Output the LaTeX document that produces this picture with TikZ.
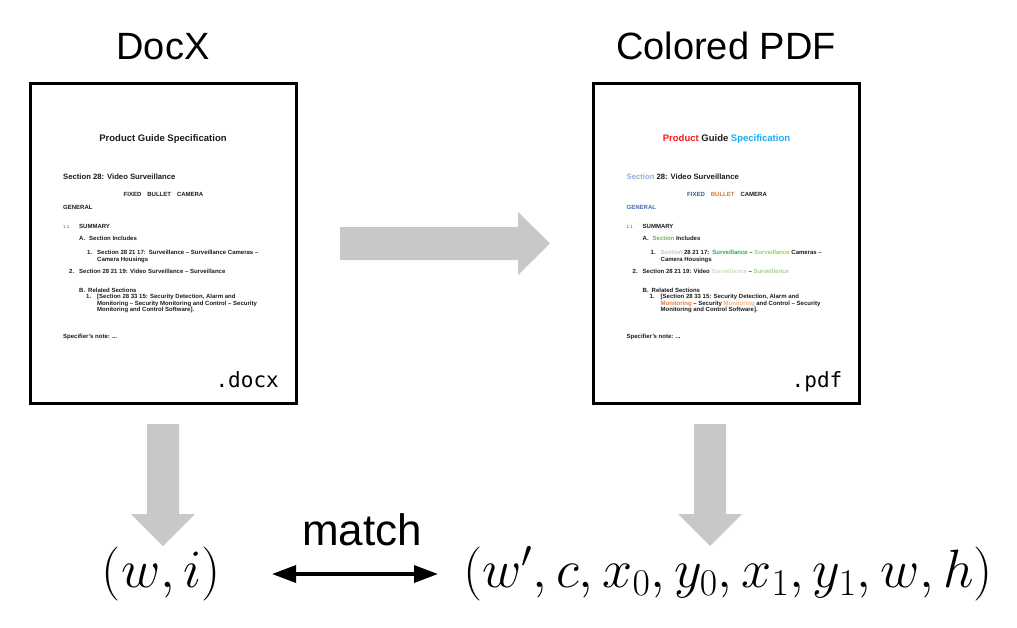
\documentclass[tikz,border=0pt]{standalone}
\usepackage{fix-cm}
\usepackage{fontspec}
\setmainfont{Liberation Sans}
\newfontfamily\monof{DejaVu Sans Mono}
\usetikzlibrary{arrows.meta}
\definecolor{blockgray}{RGB}{200,200,200}
\definecolor{ink}{RGB}{28,28,28}
\colorlet{kProduct}{ink}
\colorlet{kSpec}{ink}
\colorlet{kSecT}{ink}
\colorlet{kFixed}{ink}
\colorlet{kBullet}{ink}
\colorlet{kGeneral}{ink}
\colorlet{kSecA}{ink}
\colorlet{kSecB}{ink}
\colorlet{kSurvA}{ink}
\colorlet{kSurvB}{ink}
\colorlet{kSurvC}{ink}
\colorlet{kSurvD}{ink}
\colorlet{kMonA}{ink}
\colorlet{kMonB}{ink}
\tikzset{
  docbox/.style={draw=black, line width=3pt, fill=white, inner sep=0pt},
  dtitle/.style={anchor=base, inner sep=0pt, text=ink, font=\fontsize{9.5}{11}\selectfont\bfseries},
  dsec/.style={anchor=base west, inner sep=0pt, text=ink, font=\fontsize{7.7}{9}\selectfont\bfseries},
  dtxt/.style={anchor=base west, inner sep=0pt, text=ink, font=\fontsize{6}{7}\selectfont\bfseries},
  dnum/.style={anchor=base west, inner sep=0pt, text=ink!70, font=\fontsize{4.5}{5}\selectfont},
  ext/.style={anchor=base east, inner sep=0pt, font=\fontsize{21}{24}\selectfont\monof},
  heading/.style={anchor=base, inner sep=0pt, font=\fontsize{38}{44}\selectfont},
  mathlbl/.style={anchor=base, inner sep=0pt, font=\fontsize{54}{62}\selectfont},
  blockarrow/.style={fill=blockgray, draw=none},
  matcharrow/.style={line width=3.5pt, {Triangle[length=24pt,width=17pt]}-{Triangle[length=24pt,width=17pt]}}
}
\newcommand\DocBody{%
  \node[dtitle] (title) at (163,141) {\textcolor{kProduct}{Product} Guide \textcolor{kSpec}{Specification}};
  \node[dsec] (sec) at (63,179) {\textcolor{kSecT}{Section} 28: Video Surveillance};
  \node[dtxt, anchor=base] (fbc) at (163.5,196) {\textcolor{kFixed}{FIXED}\hspace{6pt}\textcolor{kBullet}{BULLET}\hspace{6pt}CAMERA};
  \node[dtxt, text=kGeneral] (gen) at (63,209) {GENERAL};
  \node[dnum] (n11) at (63,228) {1.1};
  \node[dtxt] (summ) at (79,228) {SUMMARY};
  \node[dtxt] (secinc) at (79,240.5) {A.\hspace{4pt}\textcolor{kSecA}{Section} Includes};
  \node[dtxt] (one) at (87,254) {1.};
  \node[dtxt] (l1) at (97,254) {\textcolor{kSecB}{Section} 28 21 17:\hspace{3pt}\textcolor{kSurvA}{Surveillance} – \textcolor{kSurvB}{Surveillance} Cameras –};
  \node[dtxt] (l2) at (97,261) {Camera Housings};
  \node[dtxt] (two) at (69,273) {2.};
  \node[dtxt] (l3) at (79,273) {Section 28 21 19: Video \textcolor{kSurvC}{Surveillance} – \textcolor{kSurvD}{Surveillance}};
  \node[dtxt] (bb) at (79,292) {B.};
  \node[dtxt] (rel) at (88,292) {Related Sections};
  \node[dtxt] (oneb) at (86,298.5) {1.};
  \node[dtxt] (l4) at (97,298.5) {[Section 28 33 15: Security Detection, Alarm and};
  \node[dtxt] (l5) at (97,305) {\textcolor{kMonA}{Monitoring} – Security \textcolor{kMonB}{Monitoring} and Control – Security};
  \node[dtxt] (l6) at (97,311.5) {Monitoring and Control Software].};
  \node[dtxt] (note) at (63,338) {Specifier's note: ...};
}
\begin{document}
\begin{tikzpicture}[x=1pt, y=-1pt]
  \useasboundingbox (0,0) rectangle (1017,627);
  % headings
  \node[heading] (hdocx) at (163,59) {DocX};
  \node[heading] (hpdf) at (726,59) {Colored PDF};
  % document boxes
  \node[docbox, minimum width=266pt, minimum height=320pt] (docx) at (163,243) {};
  \node[docbox, minimum width=266pt, minimum height=320pt] (pdf) at (726.5,243) {};
  % left document contents
  \begin{scope}[name prefix=L-]
    \DocBody
    \node[ext] (ext) at (279,387) {.docx};
  \end{scope}
  % right document contents
  \begin{scope}[xshift=563.5pt, name prefix=R-]
    \definecolor{kProduct}{RGB}{255,20,20}
    \definecolor{kSpec}{RGB}{30,170,240}
    \definecolor{kSecT}{RGB}{150,172,218}
    \definecolor{kFixed}{RGB}{60,90,150}
    \definecolor{kBullet}{RGB}{215,120,55}
    \definecolor{kGeneral}{RGB}{75,108,175}
    \definecolor{kSecA}{RGB}{115,178,80}
    \definecolor{kSecB}{RGB}{180,216,160}
    \definecolor{kSurvA}{RGB}{40,172,80}
    \definecolor{kSurvB}{RGB}{150,210,85}
    \definecolor{kSurvC}{RGB}{200,226,185}
    \definecolor{kSurvD}{RGB}{165,208,140}
    \definecolor{kMonA}{RGB}{230,125,60}
    \definecolor{kMonB}{RGB}{244,177,130}
    \DocBody
    \node[ext] (ext) at (279,387) {.pdf};
  \end{scope}
  % block arrows
  \fill[blockarrow] (340,227) -- (518,227) -- (518,212) -- (550,243.5) -- (518,275) -- (518,260) -- (340,260) -- cycle;
  \fill[blockarrow] (147,424) -- (179,424) -- (179,514) -- (195,514) -- (163,546) -- (131,514) -- (147,514) -- cycle;
  \fill[blockarrow] (694,424) -- (726,424) -- (726,514) -- (742,514) -- (710,546) -- (678,514) -- (694,514) -- cycle;
  % tuples
  \node[mathlbl] (wi) at (161.5,587) {$(w,i)$};
  \node[mathlbl] (tuple) at (728,587) {$(w',c,x_0,y_0,x_1,y_1,w,h)$};
  \node[anchor=base, inner sep=0pt, font=\fontsize{44}{50}\selectfont] (match) at (362,545) {match};
  \coordinate (mL) at (272,574);
  \coordinate (mR) at (438,574);
  \draw[matcharrow] (mL) -- (mR);
\end{tikzpicture}
\end{document}
